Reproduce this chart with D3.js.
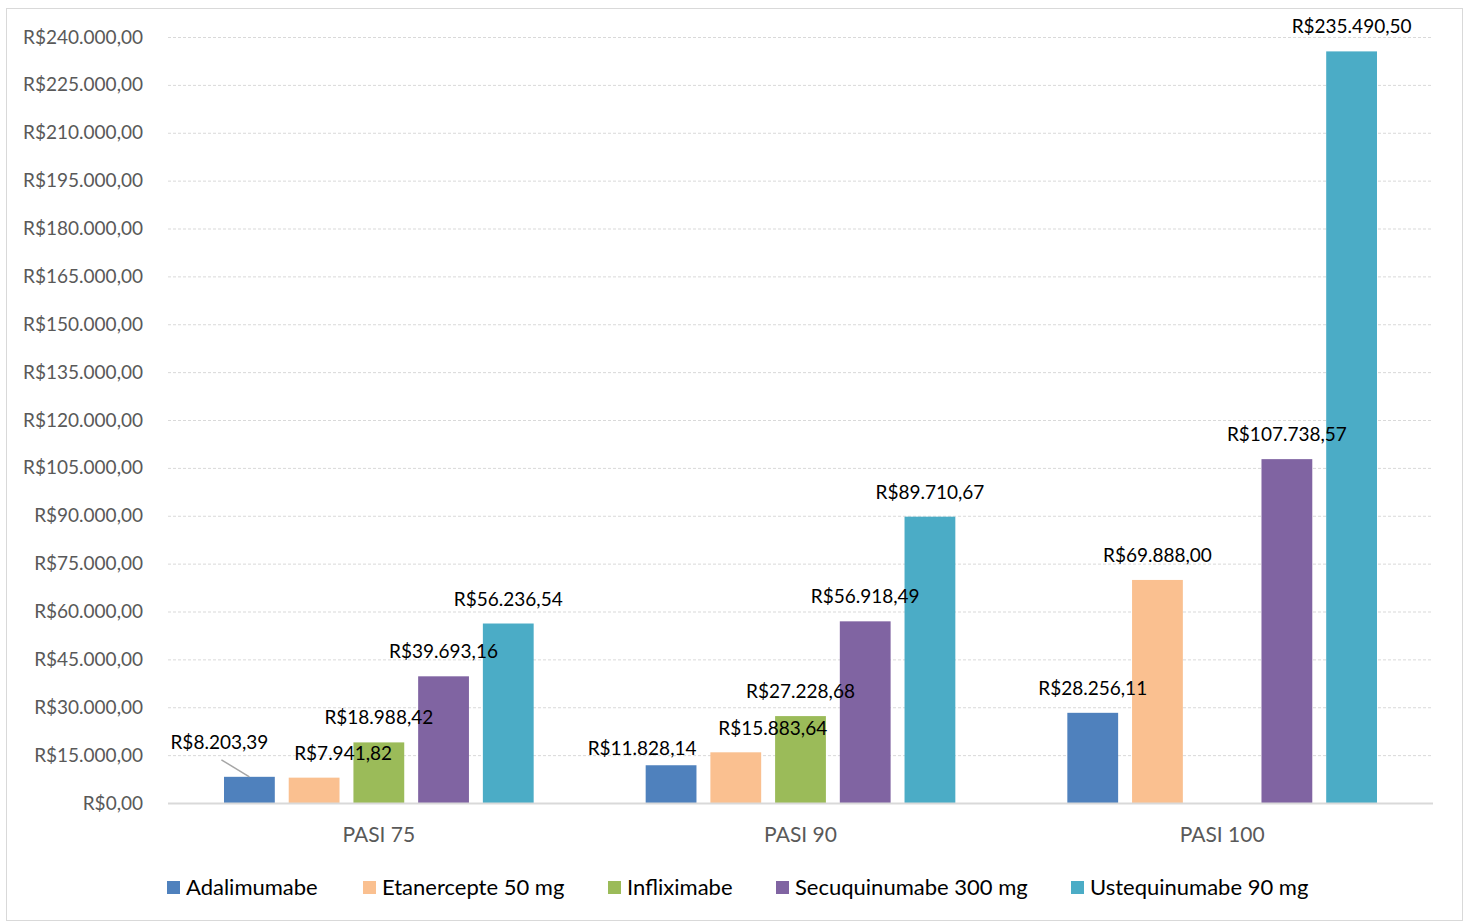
<!DOCTYPE html>
<html>

<head>
    <meta charset="utf-8" />
    <title>Custo PASI</title>
    <script src="https://d3js.org/d3.v7.min.js"></script>
    <style>
        body { margin: 0; background: #fff; }
        text { font-family: Lato, "Noto Sans", sans-serif; }
    </style>
</head>

<body>
    <svg id="chart" width="1470" height="922"></svg>

    <script>

        // data
        var categories = ["PASI 75", "PASI 90", "PASI 100"];
        var seriesNames = ["Adalimumabe", "Etanercepte 50 mg", "Infliximabe", "Secuquinumabe 300 mg", "Ustequinumabe 90 mg"];
        var adalimumabe = [8203.39, 11828.14, 28256.11];
        var etanercepte = [7941.82, 15883.64, 69888.00];
        var infliximabe = [18988.42, 27228.68, null];
        var secuquinumabe = [39693.16, 56918.49, 107738.57];
        var ustequinumabe = [56236.54, 89710.67, 235490.50];
        var yTicks = d3.range(0, 240001, 15000);

        var seriesValues = [adalimumabe, etanercepte, infliximabe, secuquinumabe, ustequinumabe];
        var colors = ["#4f81bd", "#fac090", "#9bbb59", "#8064a2", "#4bacc6"];

        // labels that were dragged away from the default spot (series index, category index)
        var labelNudge = {
            "0-0": { dx: -30, dy: -10 },
            "1-0": { dx: 29, dy: 0 },
            "0-1": { dx: -29, dy: 8 },
            "1-1": { dx: 37, dy: 1 }
        };

        var svg = d3.select("#chart");

        // chart frame
        svg.append("rect")
            .attr("x", 6.5).attr("y", 8.5)
            .attr("width", 1456).attr("height", 912)
            .attr("fill", "none")
            .attr("stroke", "#d9d9d9");

        var plotLeft = 168, plotRight = 1433, plotTop = 37, plotBottom = 803;

        var x0 = d3.scaleBand().domain(categories).range([plotLeft, plotRight]).paddingInner(0).paddingOuter(0);
        var x1 = d3.scaleBand().domain(d3.range(seriesNames.length))
            .range([56, x0.bandwidth() - 56]).paddingInner(0.215).paddingOuter(0);
        var y = d3.scaleLinear().domain([0, 240000]).range([plotBottom, plotTop]);

        var fmt = d3.formatLocale({ decimal: ",", thousands: ".", grouping: [3], currency: ["R$", ""] }).format("$,.2f");

        // gridlines
        svg.append("g")
            .selectAll("line")
            .data(yTicks.filter(function (d) { return d > 0; }))
            .enter().append("line")
            .attr("x1", plotLeft).attr("x2", plotRight)
            .attr("y1", function (d) { return y(d) + 0.5; })
            .attr("y2", function (d) { return y(d) + 0.5; })
            .attr("stroke", "#d9d9d9")
            .attr("stroke-dasharray", "3,2");

        // y axis labels
        var yAxis = svg.append("g")
            .attr("transform", "translate(" + 143 + ",0)")
            .call(d3.axisLeft(y).tickValues(yTicks).tickFormat(fmt).tickSize(0).tickPadding(0));
        yAxis.select(".domain").remove();
        yAxis.selectAll("text")
            .attr("fill", "#595959")
            .style("font-size", "19px")
            .style("font-family", "Lato, sans-serif");

        // bars
        var groups = svg.append("g").selectAll("g")
            .data(categories)
            .enter().append("g")
            .attr("transform", function (d) { return "translate(" + x0(d) + ",0)"; });

        groups.selectAll("rect")
            .data(function (c, ci) {
                return seriesValues.map(function (vals, si) { return { si: si, ci: ci, v: vals[ci] }; })
                    .filter(function (d) { return d.v != null; });
            })
            .enter().append("rect")
            .attr("x", function (d) { return x1(d.si); })
            .attr("width", x1.bandwidth())
            .attr("y", function (d) { return y(d.v); })
            .attr("height", function (d) { return plotBottom - y(d.v); })
            .attr("fill", function (d) { return colors[d.si]; });

        // x axis line
        svg.append("line")
            .attr("x1", plotLeft).attr("x2", plotRight)
            .attr("y1", plotBottom + 0.5).attr("y2", plotBottom + 0.5)
            .attr("stroke", "#d9d9d9")
            .attr("stroke-width", 2);

        // category labels
        var xAxis = svg.append("g")
            .attr("transform", "translate(0," + 842 + ")")
            .call(d3.axisBottom(x0).tickSize(0).tickPadding(0));
        xAxis.select(".domain").remove();
        xAxis.selectAll("text")
            .attr("fill", "#595959")
            .attr("dy", 0)
            .style("font-size", "21px")
            .style("font-family", "Lato, sans-serif");

        // data labels
        var labelData = [];
        categories.forEach(function (c, ci) {
            seriesValues.forEach(function (vals, si) {
                if (vals[ci] != null) labelData.push({ si: si, ci: ci, c: c, v: vals[ci] });
            });
        });

        labelData.forEach(function (d) {
            var cx = x0(d.c) + x1(d.si) + x1.bandwidth() / 2;
            var ty = y(d.v) - 18;
            var n = labelNudge[d.si + "-" + d.ci] || { dx: 0, dy: 0 };
            if (d.si === 0 && d.ci === 0) {
                // leader line
                svg.append("line")
                    .attr("x1", cx + n.dx + 2).attr("y1", y(d.v) - 17)
                    .attr("x2", cx).attr("y2", y(d.v))
                    .attr("stroke", "#a6a6a6")
                    .attr("stroke-width", 1.5);
            }
            svg.append("text")
                .attr("x", cx + n.dx)
                .attr("y", ty + n.dy)
                .attr("text-anchor", "middle")
                .attr("fill", "#000")
                .style("font-size", "19px")
                .text(fmt(d.v));
        });

        // legend
        var legendX = [167, 363, 608, 776, 1071];
        var legend = svg.append("g").selectAll("g")
            .data(seriesNames)
            .enter().append("g")
            .attr("transform", function (d, i) { return "translate(" + legendX[i] + "," + 881 + ")"; });
        legend.append("rect")
            .attr("width", 13).attr("height", 13)
            .attr("fill", function (d, i) { return colors[i]; });
        legend.append("text")
            .attr("x", 19).attr("y", 14)
            .attr("fill", "#000")
            .style("font-size", "22px")
            .text(function (d) { return d; });

    </script>

</body>

</html>
